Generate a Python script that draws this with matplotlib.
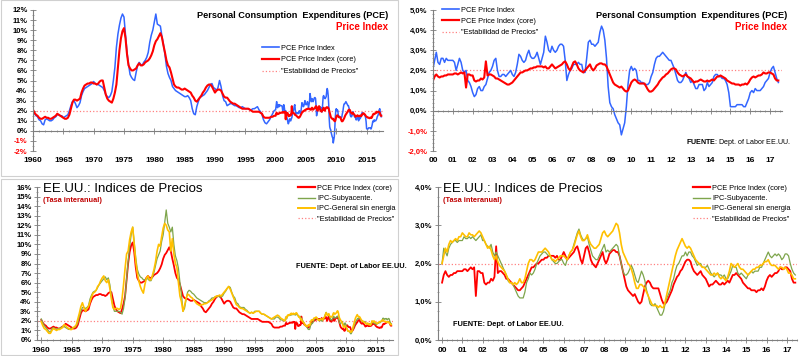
import numpy as np
import matplotlib.pyplot as plt
from matplotlib.ticker import MultipleLocator
from matplotlib.lines import Line2D
from matplotlib.patches import Rectangle

plt.rcParams['font.family'] = ['Liberation Sans', 'DejaVu Sans']
plt.rcParams['mathtext.fontset'] = 'custom'
plt.rcParams['mathtext.rm'] = 'Liberation Sans'
plt.rcParams['mathtext.bf'] = 'Liberation Sans:bold'

# ---- quarterly data, 1960Q1 - 1999Q4 (% interanual) ----
pce_long = [
    1.9, 1.7, 1.5, 1.4,  1.1, 1.0, 0.7, 0.6,  1.1, 1.2, 1.1, 1.0,  1.0, 1.1, 1.3, 1.4,
    1.6, 1.6, 1.5, 1.5,  1.3, 1.4, 1.5, 1.6,  2.0, 2.5, 2.9, 3.0,  2.7, 2.3, 2.5, 2.8,
    3.5, 3.9, 4.2, 4.3,  4.4, 4.5, 4.6, 4.7,  4.9, 4.7, 4.6, 4.6,  4.5, 4.4, 4.3, 4.0,
    3.6, 3.4, 3.3, 3.5,  3.9, 5.0, 6.3, 8.3,  9.6, 10.5, 11.2, 11.6,  11.3, 9.5, 7.8, 6.6,
    5.6, 5.3, 5.1, 5.0,  5.8, 6.5, 6.8, 6.6,  6.5, 6.8, 7.0, 7.3,  7.8, 8.8, 9.5, 10.0,
    10.8, 11.6, 10.6, 10.5,  10.4, 9.4, 8.6, 7.6,  6.4, 5.7, 5.3, 5.0,  4.4, 4.2, 4.0, 3.9,
    3.8, 3.7, 3.6, 3.5,  3.4, 3.4, 3.5, 3.3,  3.0, 2.2, 1.7, 1.6,  2.4, 2.9, 3.3, 3.4,
    3.5, 3.6, 3.8, 4.0,  4.3, 4.6, 4.7, 4.3,  4.2, 4.0, 4.3, 5.0,  4.4, 3.5, 3.0, 2.9,
    2.5, 2.6, 2.7, 2.7,  2.6, 2.5, 2.5, 2.4,  2.3, 2.3, 2.4, 2.3,  2.2, 2.2, 2.2, 2.1,
    2.1, 2.2, 2.2, 2.3,  2.4, 2.1, 1.9, 1.6,  1.1, 0.8, 0.7, 0.9,  1.1, 1.4, 1.7, 2.0,
]
core_long = [
    2.1, 1.8, 1.6, 1.5,  1.3, 1.2, 1.2, 1.3,  1.4, 1.3, 1.3, 1.2,  1.2, 1.3, 1.4, 1.5,
    1.7, 1.6, 1.5, 1.4,  1.3, 1.2, 1.2, 1.3,  1.6, 2.2, 2.8, 3.1,  3.1, 3.0, 3.1, 3.2,
    3.8, 4.2, 4.5, 4.6,  4.7, 4.7, 4.8, 4.8,  4.7, 4.7, 4.6, 4.7,  4.9, 5.0, 5.0, 4.3,
    3.6, 3.2, 3.0, 2.9,  2.8, 3.2, 3.8, 4.6,  6.3, 8.0, 9.2, 9.9,  10.2, 9.2, 7.6, 6.5,
    6.2, 6.0, 6.0, 6.1,  6.2, 6.5, 6.7, 6.5,  6.5, 6.6, 6.8, 6.9,  7.0, 7.2, 7.5, 7.9,
    8.5, 8.9, 9.1, 9.4,  9.7, 9.3, 8.5, 7.8,  7.0, 6.5, 6.3, 5.8,  5.2, 4.6, 4.4, 4.3,
    4.3, 4.2, 4.1, 4.1,  4.2, 4.1, 4.0, 3.9,  3.8, 3.5, 3.3, 3.0,  2.9, 3.1, 3.3, 3.5,
    3.8, 4.0, 4.3, 4.5,  4.6, 4.6, 4.4, 4.1,  3.8, 4.0, 4.1, 4.1,  4.0, 3.7, 3.4, 3.3,
    3.3, 3.1, 2.9, 2.8,  2.7, 2.7, 2.6, 2.5,  2.4, 2.3, 2.2, 2.2,  2.2, 2.2, 2.2, 2.1,
    2.0, 1.9, 1.9, 1.9,  1.9, 1.9, 1.8, 1.7,  1.4, 1.3, 1.3, 1.3,  1.3, 1.4, 1.4, 1.5,
]
ipc_sub_long = [
    2.2, 1.8, 1.5, 1.3,  1.1, 0.9, 0.8, 1.2,  1.3, 1.2, 1.1, 1.2,  1.2, 1.3, 1.4, 1.4,
    1.3, 1.2, 1.1, 1.2,  1.2, 1.3, 1.3, 1.5,  1.8, 2.5, 3.0, 3.4,  3.4, 3.3, 3.4, 3.6,
    4.3, 4.7, 5.0, 5.1,  5.2, 5.5, 5.8, 6.0,  6.2, 6.4, 6.6, 6.3,  6.5, 5.8, 4.6, 3.5,
    3.0, 3.0, 3.0, 3.0,  2.9, 2.7, 3.3, 4.4,  6.4, 8.2, 9.8, 11.0,  11.8, 10.2, 8.6, 7.4,
    6.9, 6.6, 6.5, 6.3,  6.3, 6.4, 6.4, 6.2,  6.2, 6.6, 7.1, 7.8,  8.5, 8.9, 9.3, 10.3,
    11.0, 12.3, 13.6, 12.2,  11.8, 11.3, 11.8, 10.0,  8.8, 8.3, 7.5, 6.0,  4.8, 3.0, 3.3, 4.2,
    5.0, 5.2, 5.1, 4.9,  4.8, 4.6, 4.4, 4.3,  4.2, 4.1, 4.0, 3.9,  3.9, 3.9, 4.1, 4.2,
    4.4, 4.4, 4.5, 4.5,  4.6, 4.5, 4.5, 4.6,  4.9, 5.1, 5.4, 5.6,  5.5, 5.0, 4.6, 4.4,
    3.9, 3.8, 3.5, 3.4,  3.4, 3.4, 3.2, 3.1,  2.9, 2.8, 2.9, 2.8,  3.0, 3.0, 3.0, 3.0,
    2.8, 2.7, 2.7, 2.6,  2.5, 2.4, 2.3, 2.2,  2.2, 2.2, 2.4, 2.4,  2.3, 2.1, 2.1, 2.0,
]
ipc_sin_energia_long = [
    1.9, 1.5, 1.2, 1.1,  0.9, 0.7, 0.7, 1.0,  1.2, 1.1, 1.0, 1.1,  1.1, 1.2, 1.3, 1.6,
    1.5, 1.3, 1.2, 1.1,  1.1, 1.3, 1.4, 1.6,  2.2, 2.8, 3.5, 3.9,  3.4, 3.0, 3.3, 3.5,
    4.0, 4.5, 4.9, 5.0,  5.2, 5.6, 5.8, 6.2,  6.5, 6.7, 6.2, 6.0,  6.3, 5.4, 4.3, 3.4,
    3.2, 3.3, 3.3, 3.2,  3.3, 4.3, 5.8, 7.5,  9.0, 9.3, 10.5, 11.3,  11.8, 10.0, 8.2, 7.0,
    6.2, 5.6, 5.2, 4.9,  5.8, 6.5, 6.7, 6.3,  6.3, 6.8, 7.4, 8.2,  9.3, 10.0, 9.8, 10.8,
    11.7, 12.2, 12.0, 11.5,  11.3, 9.3, 10.6, 9.0,  8.0, 7.6, 6.0, 4.6,  4.0, 3.0, 3.6, 4.3,
    4.8, 4.7, 4.5, 4.4,  4.2, 4.0, 3.8, 3.7,  3.6, 3.7, 3.7, 3.8,  3.8, 3.9, 4.0, 4.1,
    4.2, 4.3, 4.5, 4.6,  4.6, 4.7, 4.6, 4.8,  5.0, 5.2, 5.4, 5.6,  5.3, 4.9, 4.5, 4.1,
    3.7, 3.6, 3.4, 3.3,  3.3, 3.2, 3.1, 3.0,  2.9, 2.8, 2.9, 2.8,  2.9, 3.0, 3.0, 3.0,
    2.8, 2.7, 2.7, 2.6,  2.5, 2.4, 2.3, 2.2,  2.3, 2.4, 2.5, 2.6,  2.5, 2.3, 2.2, 2.1,
]

# ---- monthly data, Jan 2000 - Jun 2017 ----
pce_recent = [
    2.1, 2.5, 2.9, 2.4, 2.3, 2.6, 2.6, 2.4, 2.6, 2.5, 2.5, 2.5,
    2.5, 2.4, 2.0, 2.3, 2.6, 2.4, 2.0, 1.9, 2.0, 1.5, 1.4, 1.2,
    0.9, 0.7, 0.8, 1.1, 1.2, 1.0, 1.0, 1.2, 1.3, 1.6, 1.9, 2.0,
    2.2, 2.5, 2.6, 2.0, 1.7, 1.7, 1.8, 1.8, 1.7, 1.8, 1.9, 2.0,
    1.8, 1.7, 1.9, 2.3, 2.8, 2.7, 2.5, 2.4, 2.5, 2.8, 3.0, 2.7,
    2.6, 2.6, 2.7, 2.9, 2.6, 2.3, 2.6, 2.9, 3.7, 3.4, 3.0, 2.9,
    3.2, 3.0, 2.9, 3.0, 3.2, 3.3, 3.3, 3.2, 2.5, 1.5, 1.8, 2.0,
    2.1, 2.3, 2.3, 2.3, 2.4, 2.3, 2.3, 1.9, 1.9, 2.6, 3.4, 3.5,
    3.3, 3.3, 3.2, 3.3, 3.4, 3.9, 4.2, 4.0, 3.5, 2.6, 1.2, 0.4,
    0.2, 0.1, -0.2, -0.4, -0.6, -0.7, -1.2, -0.9, -0.6, 0.2, 1.3, 2.0,
    2.2, 2.0, 2.1, 2.0, 1.5, 1.5, 1.4, 1.4, 1.3, 1.3, 1.3, 1.4,
    1.7, 1.9, 2.3, 2.6, 2.7, 2.7, 2.8, 2.9, 2.8, 2.7, 2.6, 2.5,
    2.5, 2.3, 2.1, 1.8, 1.5, 1.4, 1.4, 1.5, 1.7, 1.9, 1.7, 1.6,
    1.4, 1.5, 1.3, 1.1, 1.1, 1.3, 1.3, 1.3, 1.0, 1.1, 1.4, 1.2,
    1.3, 1.4, 1.7, 1.8, 1.8, 1.7, 1.7, 1.6, 1.6, 1.5, 1.3, 0.9,
    0.2, 0.2, 0.2, 0.2, 0.3, 0.3, 0.3, 0.3, 0.2, 0.2, 0.4, 0.6,
    0.9, 1.0, 0.9, 1.1, 1.0, 1.0, 1.0, 1.1, 1.2, 1.4, 1.5, 1.6,
    1.9, 2.1, 2.2, 1.9, 1.6, 1.4,
]
core_recent = [
    1.5, 1.7, 1.8, 1.7, 1.65, 1.7, 1.7, 1.75, 1.75, 1.8, 1.8, 1.8,
    1.8, 1.85, 1.85, 1.8, 1.85, 1.9, 1.85, 1.9, 1.15, 1.8, 1.8, 1.75,
    1.75, 1.5, 1.45, 1.5, 1.5, 1.6, 1.55, 1.65, 2.45, 1.75, 1.8, 1.8,
    1.75, 1.7, 1.6, 1.6, 1.55, 1.5, 1.45, 1.4, 1.35, 1.3, 1.3, 1.35,
    1.4, 1.5, 1.6, 1.7, 1.8, 1.9, 1.9, 1.95, 2.0, 2.0, 2.05, 2.1,
    2.1, 2.15, 2.15, 2.2, 2.2, 2.2, 2.2, 2.15, 2.2, 2.1, 2.1, 2.2,
    2.3, 2.2, 2.1, 2.15, 2.2, 2.25, 2.3, 2.4, 2.45, 2.3, 2.1, 2.0,
    2.2, 2.4, 2.45, 2.3, 2.1, 2.0, 1.95, 1.9, 2.0, 2.1, 2.2, 2.3,
    2.1, 2.0, 2.1, 2.25, 2.3, 2.35, 2.35, 2.3, 2.3, 2.2, 2.0, 1.8,
    1.6, 1.4, 1.3, 1.25, 1.2, 1.15, 1.2, 1.1, 1.0, 0.95, 1.0, 1.2,
    1.4, 1.5, 1.55, 1.5, 1.4, 1.35, 1.35, 1.35, 1.35, 1.2, 1.05, 0.95,
    0.95, 1.0, 1.1, 1.2, 1.3, 1.45, 1.55, 1.65, 1.7, 1.8, 1.85, 1.95,
    2.05, 2.1, 2.1, 2.05, 1.9, 1.8, 1.75, 1.7, 1.75, 1.8, 1.7, 1.65,
    1.6, 1.5, 1.4, 1.45, 1.45, 1.5, 1.55, 1.5, 1.45, 1.45, 1.5, 1.45,
    1.5, 1.55, 1.5, 1.6, 1.7, 1.7, 1.75, 1.7, 1.65, 1.6, 1.5, 1.45,
    1.4, 1.35, 1.35, 1.3, 1.3, 1.3, 1.25, 1.3, 1.3, 1.35, 1.3, 1.4,
    1.55, 1.65, 1.7, 1.65, 1.7, 1.75, 1.75, 1.8, 1.9, 1.85, 1.85, 1.9,
    1.9, 1.85, 1.8, 1.6, 1.5, 1.5,
]
ipc_sub_recent = [
    2.0, 2.4, 2.3, 2.2, 2.4, 2.5, 2.55, 2.6, 2.6, 2.55, 2.6, 2.6,
    2.6, 2.7, 2.65, 2.65, 2.7, 2.65, 2.7, 2.65, 2.6, 2.65, 2.7, 2.75,
    2.6, 2.6, 2.5, 2.45, 2.4, 2.5, 2.3, 2.2, 2.3, 2.2, 2.1, 2.0,
    1.9, 1.8, 1.7, 1.55, 1.5, 1.5, 1.45, 1.35, 1.25, 1.15, 1.1, 1.1,
    1.1, 1.25, 1.5, 1.6, 1.75, 1.7, 1.75, 1.85, 2.0, 2.1, 2.2, 2.25,
    2.3, 2.3, 2.25, 2.2, 2.2, 2.1, 2.05, 2.0, 2.0, 2.05, 2.1, 2.1,
    2.0, 1.95, 2.1, 2.2, 2.3, 2.35, 2.5, 2.65, 2.8, 2.9, 2.75, 2.65,
    2.6, 2.65, 2.7, 2.5, 2.35, 2.2, 2.15, 2.1, 2.1, 2.2, 2.3, 2.4,
    2.5, 2.3, 2.35, 2.3, 2.35, 2.4, 2.45, 2.5, 2.45, 2.2, 2.0, 1.8,
    1.7, 1.7, 1.75, 1.85, 1.95, 1.85, 1.7, 1.55, 1.5, 1.65, 1.8, 1.7,
    1.55, 1.3, 1.15, 0.95, 0.9, 0.9, 0.95, 0.85, 0.75, 0.65, 0.65, 0.75,
    0.95, 1.1, 1.2, 1.3, 1.5, 1.6, 1.8, 1.95, 2.0, 2.1, 2.2, 2.2,
    2.3, 2.2, 2.3, 2.3, 2.2, 2.15, 2.05, 1.95, 2.0, 2.0, 1.9, 1.9,
    1.9, 1.95, 1.85, 1.75, 1.7, 1.65, 1.7, 1.75, 1.7, 1.7, 1.65, 1.7,
    1.6, 1.6, 1.7, 1.8, 1.95, 1.9, 1.9, 1.75, 1.7, 1.75, 1.7, 1.65,
    1.6, 1.7, 1.75, 1.8, 1.75, 1.8, 1.8, 1.8, 1.9, 1.9, 2.0, 2.1,
    2.2, 2.3, 2.2, 2.15, 2.2, 2.25, 2.2, 2.25, 2.2, 2.1, 2.15, 2.25,
    2.25, 2.2, 2.0, 1.85, 1.75, 1.7,
]
ipc_sin_energia_recent = [
    2.0, 2.2, 2.4, 2.3, 2.5, 2.6, 2.55, 2.6, 2.65, 2.6, 2.7, 2.7,
    2.8, 2.75, 2.7, 2.7, 2.8, 2.75, 2.75, 2.7, 2.75, 2.8, 2.85, 2.8,
    2.7, 2.6, 2.5, 2.4, 2.45, 2.35, 2.2, 2.1, 2.2, 2.05, 1.95, 1.9,
    1.85, 1.8, 1.7, 1.6, 1.5, 1.5, 1.45, 1.5, 1.45, 1.5, 1.6, 1.5,
    1.5, 1.6, 1.8, 2.0, 2.1, 2.1, 2.05, 2.1, 2.2, 2.3, 2.3, 2.3,
    2.35, 2.4, 2.35, 2.3, 2.2, 2.1, 2.1, 2.05, 2.1, 2.15, 2.2, 2.2,
    2.2, 2.15, 2.1, 2.2, 2.3, 2.35, 2.45, 2.6, 2.75, 2.85, 2.7, 2.6,
    2.6, 2.65, 2.75, 2.6, 2.5, 2.45, 2.4, 2.4, 2.45, 2.5, 2.65, 2.8,
    2.85, 2.75, 2.7, 2.75, 2.8, 2.85, 2.95, 3.05, 3.0, 2.8, 2.5, 2.3,
    2.2, 2.1, 2.0, 1.95, 1.85, 1.7, 1.5, 1.35, 1.35, 1.45, 1.45, 1.4,
    1.35, 1.25, 1.15, 1.05, 0.95, 0.9, 0.9, 0.9, 0.85, 0.9, 0.85, 0.85,
    1.0, 1.2, 1.4, 1.6, 1.8, 2.0, 2.2, 2.35, 2.45, 2.55, 2.65, 2.55,
    2.45, 2.4, 2.45, 2.4, 2.3, 2.2, 2.1, 2.05, 2.0, 1.95, 1.9, 1.9,
    1.85, 1.8, 1.75, 1.7, 1.7, 1.75, 1.7, 1.75, 1.65, 1.6, 1.65, 1.6,
    1.55, 1.65, 1.8, 2.0, 1.95, 1.9, 1.95, 2.0, 1.9, 1.85, 1.85, 1.8,
    1.75, 1.7, 1.75, 1.8, 1.85, 1.85, 1.9, 1.9, 1.95, 1.95, 2.0, 2.05,
    2.05, 2.1, 2.0, 1.95, 1.95, 1.95, 1.9, 1.85, 1.9, 1.9, 1.85, 1.9,
    1.85, 1.75, 1.75, 1.7, 1.6, 1.6,
]

estabilidad = 2.0

t = np.concatenate([1960 + np.arange(len(pce_long)) / 4,
                    2000 + np.arange(len(pce_recent)) / 12])
pce = np.concatenate([pce_long, pce_recent])
core = np.concatenate([core_long, core_recent])
ipc_sub = np.concatenate([ipc_sub_long, ipc_sub_recent])
ipc_se = np.concatenate([ipc_sin_energia_long, ipc_sin_energia_recent])

BLUE = '#3366ff'
RED = '#ff0000'
GREEN = '#7ea54c'
YELLOW = '#ffc000'
PINK = '#ff8080'
DARKRED = '#c00000'
AXC = '#7f7f7f'

W, H = 800, 356
fig = plt.figure(figsize=(8, 3.56), dpi=100)


def add_ax(left, top, right, bottom):
    return fig.add_axes([left / W, 1 - bottom / H, (right - left) / W, (bottom - top) / H])


def fmt_pct(v, dec):
    if dec == 0:
        return f'{v:.0f}%'
    return f'{v:.1f}%'.replace('.', ',')


def style(ax, xlim, ylim, ystep, yminor, dec, xt, xl, xminor, zero_axis):
    ax.set_xlim(*xlim)
    ax.set_ylim(*ylim)
    ax.patch.set_alpha(0)
    for s in ['top', 'right']:
        ax.spines[s].set_visible(False)
    ax.spines['left'].set_color(AXC)
    ax.spines['bottom'].set_color(AXC)
    yt = np.arange(ylim[0], ylim[1] + 0.001, ystep)
    ax.set_yticks(yt, [fmt_pct(v, dec) for v in yt])
    for v, lab in zip(yt, ax.get_yticklabels()):
        lab.set_color(RED if v < 0 else 'black')
        lab.set_fontweight('bold')
    ax.yaxis.set_minor_locator(MultipleLocator(yminor))
    ax.tick_params(axis='y', which='major', direction='inout', length=4, width=0.6,
                   color=AXC, labelsize=5.5, pad=2)
    ax.tick_params(axis='y', which='minor', direction='inout', length=2, width=0.5, color=AXC)
    ax.set_xticks(xt)
    ax.xaxis.set_minor_locator(MultipleLocator(xminor))
    ax.tick_params(axis='x', which='major', direction='inout', length=4, width=0.6, color=AXC)
    ax.tick_params(axis='x', which='minor', direction='inout', length=2, width=0.5, color=AXC)
    if zero_axis:
        ax.spines['bottom'].set_position(('data', 0))
        ax.tick_params(axis='x', labelbottom=False)
        sec = ax.secondary_xaxis('bottom')
        sec.set_xticks(xt, xl)
        sec.tick_params(length=0, labelsize=6, pad=4)
        sec.spines['bottom'].set_visible(False)
        for lab in sec.get_xticklabels():
            lab.set_fontweight('bold')
    else:
        ax.set_xticklabels(xl)
        ax.tick_params(axis='x', labelsize=6, pad=3)
        for lab in ax.get_xticklabels():
            lab.set_fontweight('bold')


def legend(ax, items, x, y, spacing):
    handles = [Line2D([], [], color=c, lw=lw, ls=ls) for _, c, lw, ls in items]
    ax.legend(handles, [lab for lab, _, _, _ in items], loc='upper left',
              bbox_to_anchor=(x, y), frameon=False, fontsize=5.3, handlelength=2.3,
              handletextpad=0.3, borderpad=0, borderaxespad=0, labelspacing=spacing)


years_long = list(range(1960, 2016, 5))
years_recent = list(range(2000, 2018))
lab_recent = [f'{y % 100:02d}' for y in years_recent]
estab_label = '"Estabilidad de Precios"'

# ---------- top left ----------
ax1 = add_ax(33, 10, 383, 151)
ax1.axhline(estabilidad, color=PINK, lw=0.9, ls=':')
ax1.plot(t, pce, color=BLUE, lw=1.1)
ax1.plot(t, core, color=RED, lw=1.5)
style(ax1, (1960, 2017.7), (-2, 12), 1, 0.5, 0, years_long, [str(y) for y in years_long], 1, True)
legend(ax1, [('PCE Price Index', BLUE, 1.2, '-'), ('PCE Price Index (core)', RED, 1.6, '-'),
             (estab_label, PINK, 0.9, ':')], 0.655, 0.755, 0.62)

# ---------- top right ----------
ax2 = add_ax(433, 10, 782, 151)
ax2.axhline(estabilidad, color=PINK, lw=0.9, ls=':')
m2 = t >= 2000
ax2.plot(t[m2], pce[m2], color=BLUE, lw=1.1)
ax2.plot(t[m2], core[m2], color=RED, lw=1.5)
style(ax2, (2000, 2017.6), (-2, 5), 1, 0.2, 1, years_recent, lab_recent, 0.25, True)
legend(ax2, [('PCE Price Index', BLUE, 1.2, '-'), ('PCE Price Index (core)', RED, 1.6, '-'),
             (estab_label, PINK, 0.9, ':')], 0.026, 1.025, 0.58)

# ---------- bottom left ----------
ax3 = add_ax(37, 187, 393, 340)
ax3.axhline(estabilidad, color=PINK, lw=0.9, ls=':')
ax3.plot(t, core, color=RED, lw=1.3)
ax3.plot(t, ipc_sub, color=GREEN, lw=0.9)
ax3.plot(t, ipc_se, color=YELLOW, lw=1.2)
style(ax3, (1959.3, 2017.7), (0, 16), 1, 0.5, 0, years_long, [str(y) for y in years_long], 1, False)
items_b = [('PCE Price Index (core)', RED, 1.6, '-'), ('IPC-Subyacente.', GREEN, 1.0, '-'),
           ('IPC-General sin energia', YELLOW, 1.4, '-'), (estab_label, PINK, 0.9, ':')]
legend(ax3, items_b, 0.733, 1.014, 0.42)

# ---------- bottom right ----------
ax4 = add_ax(438, 187, 797, 340)
ax4.axhline(estabilidad, color=PINK, lw=0.9, ls=':')
m4 = t >= 2000
ax4.plot(t[m4], core[m4], color=RED, lw=1.3)
ax4.plot(t[m4], ipc_sub[m4], color=GREEN, lw=0.9)
ax4.plot(t[m4], ipc_se[m4], color=YELLOW, lw=1.2)
style(ax4, (1999.8, 2017.5), (0, 4), 1, 0.25, 1, years_recent, lab_recent, 0.25, False)
legend(ax4, items_b, 0.711, 1.014, 0.42)


# ---------- texts ----------
def ftext(x, y, s, **kw):
    return fig.text(x / W, 1 - y / H, s, va='center', **kw)


for xr in (388, 787):
    ftext(xr, 15, 'Personal Consumption  Expenditures (PCE)', ha='right', fontsize=6.6, fontweight='bold')
    ftext(xr, 27, 'Price Index', ha='right', fontsize=7, fontweight='bold', color=RED)

for xl in (43, 443):
    ftext(xl, 189, 'EE.UU.: Indices de Precios', ha='left', fontsize=9.5)
    ftext(xl, 201, '(Tasa interanual)', ha='left', fontsize=5.3, fontweight='bold', color=DARKRED)

ftext(296, 267, 'FUENTE: Dept. of Labor EE.UU.', ha='left', fontsize=5.3, fontweight='bold')
ftext(453, 324, 'FUENTE: Dept. of Labor EE.UU.', ha='left', fontsize=5.3, fontweight='bold')
ftext(791, 142, r'$\mathbf{FUENTE}$: Dept. of Labor EE.UU.', ha='right', fontsize=5.1)

# light frames around the left panels
for (x0, y0, x1, y1) in [(0.5, 0.5, 398, 176), (0.5, 179, 398, 355)]:
    fig.add_artist(Rectangle((x0 / W, 1 - y1 / H), (x1 - x0) / W, (y1 - y0) / H,
                             transform=fig.transFigure, fill=False, ec='#d0d0d0', lw=0.8))

fig.savefig('out.png', dpi=100)
